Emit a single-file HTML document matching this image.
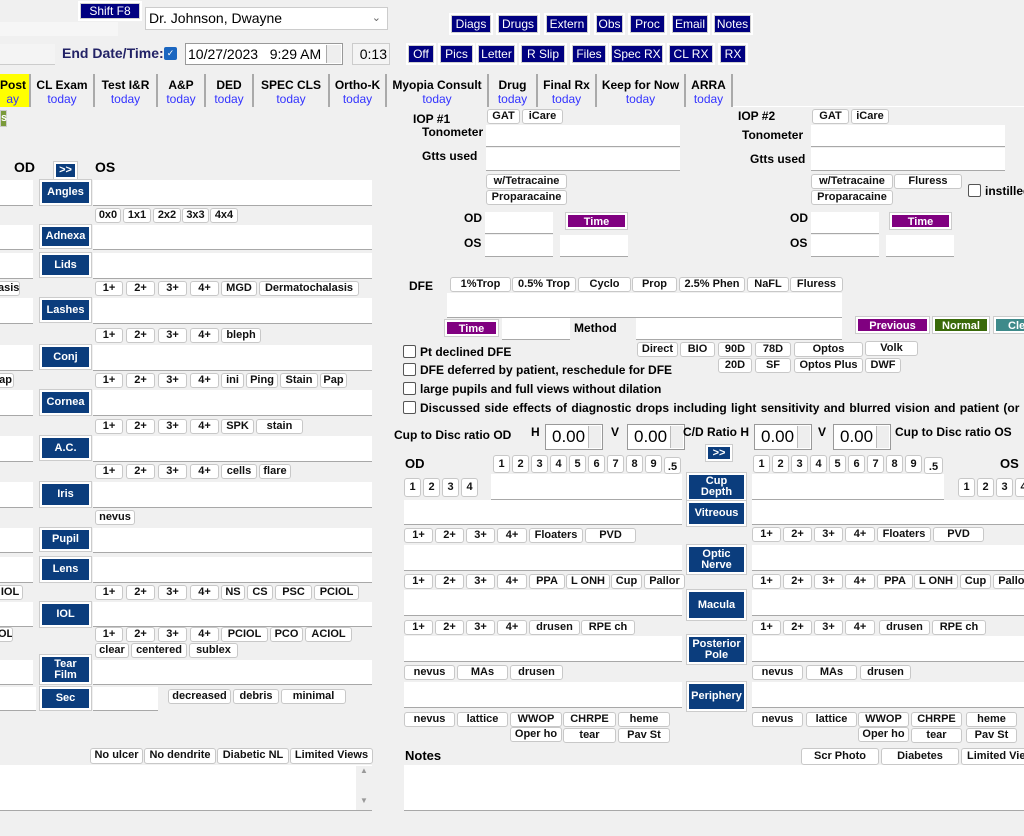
<!DOCTYPE html>
<html><head><meta charset="utf-8"><style>
*{box-sizing:border-box;margin:0;padding:0}
body{width:1024px;height:836px;background:#f0f0f0;position:relative;overflow:hidden;font-family:"Liberation Sans",Arial,sans-serif;font-size:12px;color:#000}
div,span{position:absolute}
.b{background:#fff;border:1px solid #c8c8c8;border-radius:3px;font-weight:bold;font-size:11px;text-align:center;height:15px;line-height:13px;white-space:nowrap;overflow:hidden;color:#111}
.n{background:#000080;color:#fff;font-size:12px;text-align:center;height:18px;line-height:16px;outline:2px solid #fff;border:1px solid #d0d0d0;white-space:nowrap}
.s{background:#0b3d7d;color:#fff;font-weight:bold;font-size:11px;text-align:center;border:2px solid #fff;outline:1px solid #ccc;line-height:11px;display:flex;align-items:center;justify-content:center;white-space:nowrap}
.f{background:#fff;border-bottom:1px solid #a8a8a8}
.l{font-weight:bold;font-size:12px;white-space:nowrap}
.p{background:#800080;color:#fff;font-weight:bold;font-size:11px;text-align:center;height:16px;line-height:14px;border:2px solid #fff;outline:1px solid #ccc}
.t{top:74px;height:33px;border-right:2px solid #aaa;text-align:center;font-weight:bold;font-size:12px;line-height:14px;padding-top:4px;background:#f0f0f0;white-space:nowrap}
.t i{font-style:normal;font-weight:normal;color:#3333ff;display:block}
.c{width:13px;height:13px;border:1px solid #555;border-radius:2px;background:#fff}
.sp{background:#fff;border:1px solid #999;height:26px;font-size:17px;line-height:24px;padding-left:6px}
.sp:after{content:"";position:absolute;right:1px;top:1px;width:12px;height:22px;background:#eee;border-left:1px solid #bbb}
</style></head><body>
<!-- top -->
<div style="left:0;top:22px;width:118px;height:14px;background:#f6f6f6"></div>
<div class="n" style="left:80px;top:3px;width:60px;height:16px;line-height:14px">Shift F8</div>
<div style="left:145px;top:7px;width:243px;height:23px;background:#fff;border:1px solid #ccc;font-size:14px;line-height:21px;padding-left:3px">Dr. Johnson, Dwayne<span style="right:6px;top:0;color:#666;font-size:11px">&#8964;</span></div>
<div style="left:0;top:44px;width:55px;height:21px;background:#f4f4f4;border-bottom:1px solid #ccc"></div>
<div class="l" style="left:62px;top:45px;font-size:14px;color:#222266">End Date/Time:</div>
<div style="left:164px;top:47px;width:13px;height:13px;background:#1a66c0;border-radius:2px;color:#fff;font-size:9px;line-height:13px;text-align:center">&#10003;</div>
<div style="left:185px;top:43px;width:158px;height:22px;background:#fff;border:1px solid #999;font-size:14px;line-height:20px;padding-left:2px">10/27/2023&nbsp;&nbsp;&nbsp;9:29 AM<span style="right:1px;top:1px;width:15px;height:18px;background:#eee;border-left:1px solid #aaa"></span></div>
<div style="left:352px;top:43px;width:38px;height:22px;background:#f4f4f4;border:1px solid #ccc;font-size:14px;line-height:20px;text-align:right;padding-right:2px">0:13</div>
<div class="n" style="left:451px;top:15px;width:40px">Diags</div>
<div class="n" style="left:498px;top:15px;width:40px">Drugs</div>
<div class="n" style="left:546px;top:15px;width:42px">Extern</div>
<div class="n" style="left:596px;top:15px;width:27px">Obs</div>
<div class="n" style="left:630px;top:15px;width:35px">Proc</div>
<div class="n" style="left:672px;top:15px;width:36px">Email</div>
<div class="n" style="left:714px;top:15px;width:37px">Notes</div>
<div class="n" style="left:408px;top:45px;width:26px">Off</div>
<div class="n" style="left:440px;top:45px;width:33px">Pics</div>
<div class="n" style="left:478px;top:45px;width:37px">Letter</div>
<div class="n" style="left:521px;top:45px;width:44px">R Slip</div>
<div class="n" style="left:572px;top:45px;width:34px">Files</div>
<div class="n" style="left:611px;top:45px;width:52px">Spec RX</div>
<div class="n" style="left:669px;top:45px;width:44px">CL RX</div>
<div class="n" style="left:720px;top:45px;width:26px">RX</div>
<!-- tabs -->
<div style="left:0;top:106px;width:1024px;height:1px;background:#fff"></div>
<div class="t" style="left:0;width:31px;background:#ffff00;text-align:right;padding-right:10px">Post<i style="color:#3333ff">ay</i></div>
<div class="t" style="left:31px;width:64px">CL Exam<i>today</i></div>
<div class="t" style="left:95px;width:63px">Test I&amp;R<i>today</i></div>
<div class="t" style="left:158px;width:48px">A&amp;P<i>today</i></div>
<div class="t" style="left:206px;width:48px">DED<i>today</i></div>
<div class="t" style="left:254px;width:76px">SPEC CLS<i>today</i></div>
<div class="t" style="left:330px;width:57px">Ortho-K<i>today</i></div>
<div class="t" style="left:387px;width:102px">Myopia Consult<i>today</i></div>
<div class="t" style="left:489px;width:49px">Drug<i>today</i></div>
<div class="t" style="left:538px;width:59px">Final Rx<i>today</i></div>
<div class="t" style="left:597px;width:89px">Keep for Now<i>today</i></div>
<div class="t" style="left:686px;width:47px">ARRA<i>today</i></div>
<div style="left:0;top:110px;width:7px;height:17px;background:#7a9a3a;border:1px solid #ccc;color:#fff;font-weight:bold;font-size:11px;line-height:14px">s</div>
<!-- left column -->
<div class="l" style="left:14px;top:159px;font-size:14px">OD</div>
<div class="s" style="left:54px;top:162px;width:23px;height:17px">&gt;&gt;</div>
<div class="l" style="left:95px;top:159px;font-size:14px">OS</div>

<div class="f" style="left:0;top:180px;width:33px;height:26px"></div><div class="s" style="left:40px;top:180px;width:51px;height:25px">Angles</div><div class="f" style="left:93px;top:180px;width:279px;height:26px"></div>
<div class="b" style="left:95px;top:208px;width:26px">0x0</div><div class="b" style="left:123px;top:208px;width:28px">1x1</div><div class="b" style="left:153px;top:208px;width:28px">2x2</div><div class="b" style="left:182px;top:208px;width:27px">3x3</div><div class="b" style="left:210px;top:208px;width:28px">4x4</div>

<div class="f" style="left:0;top:225px;width:33px;height:25px"></div><div class="s" style="left:40px;top:225px;width:51px;height:23px">Adnexa</div><div class="f" style="left:93px;top:225px;width:279px;height:25px"></div>

<div class="f" style="left:0;top:253px;width:33px;height:26px"></div><div class="s" style="left:40px;top:253px;width:51px;height:24px">Lids</div><div class="f" style="left:93px;top:253px;width:279px;height:26px"></div>
<div class="b" style="left:-3px;top:281px;width:23px">asis</div>
<div class="b" style="left:95px;top:281px;width:28px">1+</div><div class="b" style="left:126px;top:281px;width:29px">2+</div><div class="b" style="left:158px;top:281px;width:29px">3+</div><div class="b" style="left:190px;top:281px;width:29px">4+</div><div class="b" style="left:221px;top:281px;width:36px">MGD</div><div class="b" style="left:259px;top:281px;width:100px">Dermatochalasis</div>

<div class="f" style="left:0;top:298px;width:33px;height:26px"></div><div class="s" style="left:40px;top:298px;width:51px;height:24px">Lashes</div><div class="f" style="left:93px;top:298px;width:279px;height:26px"></div>
<div class="b" style="left:95px;top:328px;width:28px">1+</div><div class="b" style="left:126px;top:328px;width:29px">2+</div><div class="b" style="left:158px;top:328px;width:29px">3+</div><div class="b" style="left:190px;top:328px;width:29px">4+</div><div class="b" style="left:221px;top:328px;width:40px">bleph</div>

<div class="f" style="left:0;top:345px;width:33px;height:26px"></div><div class="s" style="left:40px;top:345px;width:51px;height:24px">Conj</div><div class="f" style="left:93px;top:345px;width:279px;height:26px"></div>
<div class="b" style="left:-3px;top:373px;width:17px">ap</div>
<div class="b" style="left:95px;top:373px;width:28px">1+</div><div class="b" style="left:126px;top:373px;width:29px">2+</div><div class="b" style="left:158px;top:373px;width:29px">3+</div><div class="b" style="left:190px;top:373px;width:29px">4+</div><div class="b" style="left:221px;top:373px;width:23px">ini</div><div class="b" style="left:246px;top:373px;width:32px">Ping</div><div class="b" style="left:280px;top:373px;width:38px">Stain</div><div class="b" style="left:320px;top:373px;width:27px">Pap</div>

<div class="f" style="left:0;top:390px;width:33px;height:26px"></div><div class="s" style="left:40px;top:390px;width:51px;height:25px">Cornea</div><div class="f" style="left:93px;top:390px;width:279px;height:26px"></div>
<div class="b" style="left:95px;top:419px;width:28px">1+</div><div class="b" style="left:126px;top:419px;width:29px">2+</div><div class="b" style="left:158px;top:419px;width:29px">3+</div><div class="b" style="left:190px;top:419px;width:29px">4+</div><div class="b" style="left:221px;top:419px;width:33px">SPK</div><div class="b" style="left:256px;top:419px;width:47px">stain</div>

<div class="f" style="left:0;top:436px;width:33px;height:26px"></div><div class="s" style="left:40px;top:436px;width:51px;height:24px">A.C.</div><div class="f" style="left:93px;top:436px;width:279px;height:26px"></div>
<div class="b" style="left:95px;top:464px;width:28px">1+</div><div class="b" style="left:126px;top:464px;width:29px">2+</div><div class="b" style="left:158px;top:464px;width:29px">3+</div><div class="b" style="left:190px;top:464px;width:29px">4+</div><div class="b" style="left:221px;top:464px;width:36px">cells</div><div class="b" style="left:259px;top:464px;width:32px">flare</div>

<div class="f" style="left:0;top:482px;width:33px;height:26px"></div><div class="s" style="left:40px;top:482px;width:51px;height:25px">Iris</div><div class="f" style="left:93px;top:482px;width:279px;height:26px"></div>
<div class="b" style="left:95px;top:510px;width:40px">nevus</div>

<div class="f" style="left:0;top:528px;width:33px;height:25px"></div><div class="s" style="left:40px;top:528px;width:51px;height:23px">Pupil</div><div class="f" style="left:93px;top:528px;width:279px;height:25px"></div>

<div class="f" style="left:0;top:557px;width:33px;height:26px"></div><div class="s" style="left:40px;top:557px;width:51px;height:25px">Lens</div><div class="f" style="left:93px;top:557px;width:279px;height:26px"></div>
<div class="b" style="left:-3px;top:585px;width:26px">IOL</div>
<div class="b" style="left:95px;top:585px;width:28px">1+</div><div class="b" style="left:126px;top:585px;width:29px">2+</div><div class="b" style="left:158px;top:585px;width:29px">3+</div><div class="b" style="left:190px;top:585px;width:29px">4+</div><div class="b" style="left:221px;top:585px;width:24px">NS</div><div class="b" style="left:247px;top:585px;width:26px">CS</div><div class="b" style="left:275px;top:585px;width:37px">PSC</div><div class="b" style="left:314px;top:585px;width:45px">PCIOL</div>

<div class="f" style="left:0;top:602px;width:33px;height:25px"></div><div class="s" style="left:40px;top:602px;width:51px;height:25px">IOL</div><div class="f" style="left:93px;top:602px;width:279px;height:25px"></div>
<div class="b" style="left:-3px;top:627px;width:16px">OL</div>
<div class="b" style="left:95px;top:627px;width:28px">1+</div><div class="b" style="left:126px;top:627px;width:29px">2+</div><div class="b" style="left:158px;top:627px;width:29px">3+</div><div class="b" style="left:190px;top:627px;width:29px">4+</div><div class="b" style="left:221px;top:627px;width:47px">PCIOL</div><div class="b" style="left:270px;top:627px;width:33px">PCO</div><div class="b" style="left:305px;top:627px;width:47px">ACIOL</div>
<div class="b" style="left:95px;top:643px;width:34px">clear</div><div class="b" style="left:131px;top:643px;width:56px">centered</div><div class="b" style="left:189px;top:643px;width:49px">sublex</div>

<div class="f" style="left:0;top:660px;width:33px;height:25px"></div><div class="s" style="left:40px;top:655px;width:51px;height:29px">Tear<br>Film</div><div class="f" style="left:93px;top:660px;width:279px;height:25px"></div>
<div class="f" style="left:0;top:687px;width:36px;height:24px"></div><div class="s" style="left:40px;top:687px;width:51px;height:23px">Sec</div><div class="f" style="left:93px;top:687px;width:65px;height:24px"></div>
<div class="b" style="left:168px;top:689px;width:63px">decreased</div><div class="b" style="left:233px;top:689px;width:46px">debris</div><div class="b" style="left:281px;top:689px;width:65px">minimal</div>

<div class="b" style="left:90px;top:748px;width:53px;height:16px">No ulcer</div><div class="b" style="left:144px;top:748px;width:72px;height:16px">No dendrite</div><div class="b" style="left:217px;top:748px;width:72px;height:16px">Diabetic NL</div><div class="b" style="left:290px;top:748px;width:83px;height:16px">Limited Views</div>
<div class="f" style="left:0;top:765px;width:372px;height:46px"></div>
<div style="left:356px;top:766px;width:16px;height:44px;background:#f0f0f0;color:#999;font-size:8px;text-align:center;line-height:10px">&#9650;<br><br><br>&#9660;</div>

<!-- IOP -->
<div class="l" style="left:413px;top:112px">IOP #1</div>
<div class="b" style="left:487px;top:109px;width:33px">GAT</div><div class="b" style="left:522px;top:109px;width:41px">iCare</div>
<div class="l" style="left:422px;top:125px">Tonometer</div>
<div class="f" style="left:486px;top:125px;width:194px;height:22px"></div>
<div class="l" style="left:422px;top:149px">Gtts used</div>
<div class="f" style="left:486px;top:148px;width:194px;height:23px"></div>
<div class="b" style="left:486px;top:174px;width:81px">w/Tetracaine</div>
<div class="b" style="left:486px;top:190px;width:81px">Proparacaine</div>
<div class="l" style="left:464px;top:211px">OD</div><div class="f" style="left:485px;top:212px;width:68px;height:22px"></div>
<div class="p" style="left:566px;top:213px;width:61px">Time</div>
<div class="l" style="left:464px;top:236px">OS</div><div class="f" style="left:485px;top:235px;width:68px;height:22px"></div><div class="f" style="left:560px;top:235px;width:68px;height:22px"></div>

<div class="l" style="left:738px;top:109px">IOP #2</div>
<div class="b" style="left:812px;top:109px;width:37px">GAT</div><div class="b" style="left:851px;top:109px;width:38px">iCare</div>
<div class="l" style="left:742px;top:128px">Tonometer</div>
<div class="f" style="left:811px;top:125px;width:194px;height:22px"></div>
<div class="l" style="left:750px;top:152px">Gtts used</div>
<div class="f" style="left:811px;top:148px;width:194px;height:23px"></div>
<div class="b" style="left:811px;top:174px;width:82px">w/Tetracaine</div><div class="b" style="left:894px;top:174px;width:68px">Fluress</div>
<div class="b" style="left:811px;top:190px;width:82px">Proparacaine</div>
<div class="c" style="left:968px;top:184px"></div><div class="l" style="left:985px;top:184px">instilled</div>
<div class="l" style="left:790px;top:211px">OD</div><div class="f" style="left:811px;top:212px;width:68px;height:22px"></div>
<div class="p" style="left:890px;top:213px;width:61px">Time</div>
<div class="l" style="left:790px;top:236px">OS</div><div class="f" style="left:811px;top:235px;width:68px;height:22px"></div><div class="f" style="left:886px;top:235px;width:68px;height:22px"></div>

<!-- DFE -->
<div class="l" style="left:409px;top:279px">DFE</div>
<div class="b" style="left:450px;top:277px;width:61px">1%Trop</div><div class="b" style="left:512px;top:277px;width:64px">0.5% Trop</div><div class="b" style="left:578px;top:277px;width:53px">Cyclo</div><div class="b" style="left:632px;top:277px;width:45px">Prop</div><div class="b" style="left:679px;top:277px;width:66px">2.5% Phen</div><div class="b" style="left:747px;top:277px;width:42px">NaFL</div><div class="b" style="left:790px;top:277px;width:53px">Fluress</div>
<div class="f" style="left:447px;top:293px;width:395px;height:25px"></div>
<div class="p" style="left:445px;top:320px;width:53px">Time</div>
<div class="f" style="left:502px;top:318px;width:68px;height:22px"></div>
<div class="l" style="left:574px;top:321px">Method</div>
<div class="f" style="left:636px;top:318px;width:206px;height:22px"></div>
<div class="p" style="left:856px;top:317px;width:73px">Previous</div>
<div class="p" style="left:933px;top:317px;width:56px;background:#3a6a0a">Normal</div>
<div class="p" style="left:994px;top:317px;width:40px;background:#3e8a8a;text-align:left;padding-left:12px">Clear</div>
<div class="b" style="left:637px;top:342px;width:41px">Direct</div><div class="b" style="left:680px;top:342px;width:35px">BIO</div><div class="b" style="left:718px;top:342px;width:34px">90D</div><div class="b" style="left:755px;top:342px;width:36px">78D</div><div class="b" style="left:794px;top:342px;width:69px">Optos</div><div class="b" style="left:865px;top:341px;width:53px">Volk</div>
<div class="b" style="left:718px;top:358px;width:34px">20D</div><div class="b" style="left:755px;top:358px;width:36px">SF</div><div class="b" style="left:794px;top:358px;width:69px">Optos Plus</div><div class="b" style="left:865px;top:358px;width:36px">DWF</div>
<div class="c" style="left:403px;top:345px"></div><div class="l" style="left:420px;top:345px">Pt declined DFE</div>
<div class="c" style="left:403px;top:363px"></div><div class="l" style="left:420px;top:363px">DFE deferred by patient, reschedule for DFE</div>
<div class="c" style="left:403px;top:382px"></div><div class="l" style="left:420px;top:382px">large pupils and full views without dilation</div>
<div class="c" style="left:403px;top:401px"></div><div class="l" style="left:420px;top:401px;word-spacing:1px">Discussed side effects of diagnostic drops including light sensitivity and blurred vision and patient (or parent)</div>

<!-- C/D -->
<div class="l" style="left:394px;top:428px">Cup to Disc ratio OD</div>
<div class="l" style="left:531px;top:425px">H</div><div class="sp" style="left:545px;top:424px;width:58px">0.00</div>
<div class="l" style="left:611px;top:425px">V</div><div class="sp" style="left:627px;top:424px;width:58px">0.00</div>
<div class="l" style="left:683px;top:425px">C/D Ratio H</div><div class="sp" style="left:754px;top:424px;width:58px">0.00</div>
<div class="l" style="left:818px;top:425px">V</div><div class="sp" style="left:833px;top:424px;width:58px">0.00</div>
<div class="l" style="left:895px;top:425px">Cup to Disc ratio OS</div>
<div class="s" style="left:706px;top:445px;width:26px;height:16px">&gt;&gt;</div>
<div class="l" style="left:405px;top:456px;font-size:13px">OD</div><div class="l" style="left:1000px;top:456px;font-size:13px">OS</div>
<div class="b" style="left:493px;top:455px;width:17px;height:18px;line-height:16px">1</div><div class="b" style="left:512px;top:455px;width:17px;height:18px;line-height:16px">2</div><div class="b" style="left:531px;top:455px;width:17px;height:18px;line-height:16px">3</div><div class="b" style="left:550px;top:455px;width:17px;height:18px;line-height:16px">4</div><div class="b" style="left:569px;top:455px;width:17px;height:18px;line-height:16px">5</div><div class="b" style="left:588px;top:455px;width:17px;height:18px;line-height:16px">6</div><div class="b" style="left:607px;top:455px;width:17px;height:18px;line-height:16px">7</div><div class="b" style="left:626px;top:455px;width:17px;height:18px;line-height:16px">8</div><div class="b" style="left:645px;top:455px;width:17px;height:18px;line-height:16px">9</div><div class="b" style="left:664px;top:457px;width:17px;height:17px;line-height:18px">.5</div>
<div class="b" style="left:753px;top:455px;width:17px;height:18px;line-height:16px">1</div><div class="b" style="left:772px;top:455px;width:17px;height:18px;line-height:16px">2</div><div class="b" style="left:791px;top:455px;width:17px;height:18px;line-height:16px">3</div><div class="b" style="left:810px;top:455px;width:17px;height:18px;line-height:16px">4</div><div class="b" style="left:829px;top:455px;width:17px;height:18px;line-height:16px">5</div><div class="b" style="left:848px;top:455px;width:17px;height:18px;line-height:16px">6</div><div class="b" style="left:867px;top:455px;width:17px;height:18px;line-height:16px">7</div><div class="b" style="left:886px;top:455px;width:17px;height:18px;line-height:16px">8</div><div class="b" style="left:905px;top:455px;width:17px;height:18px;line-height:16px">9</div><div class="b" style="left:924px;top:457px;width:19px;height:17px;line-height:18px">.5</div>
<div class="b" style="left:404px;top:478px;width:17px;height:19px;line-height:17px">1</div><div class="b" style="left:423px;top:478px;width:17px;height:19px;line-height:17px">2</div><div class="b" style="left:442px;top:478px;width:17px;height:19px;line-height:17px">3</div><div class="b" style="left:461px;top:478px;width:17px;height:19px;line-height:17px">4</div>
<div class="b" style="left:958px;top:478px;width:17px;height:19px;line-height:17px">1</div><div class="b" style="left:977px;top:478px;width:17px;height:19px;line-height:17px">2</div><div class="b" style="left:996px;top:478px;width:17px;height:19px;line-height:17px">3</div><div class="b" style="left:1015px;top:478px;width:17px;height:19px;line-height:17px">4</div>
<div class="f" style="left:491px;top:474px;width:191px;height:26px"></div><div class="f" style="left:752px;top:474px;width:192px;height:26px"></div>

<div class="s" style="left:687px;top:473px;width:59px;height:28px">Cup<br>Depth</div>
<div class="f" style="left:404px;top:500px;width:278px;height:25px"></div><div class="s" style="left:687px;top:501px;width:59px;height:25px">Vitreous</div><div class="f" style="left:752px;top:500px;width:272px;height:25px"></div>
<div class="s" style="left:687px;top:545px;width:59px;height:29px">Optic<br>Nerve</div>
<div class="f" style="left:404px;top:545px;width:278px;height:26px"></div><div class="f" style="left:752px;top:545px;width:272px;height:26px"></div>
<div class="s" style="left:687px;top:590px;width:59px;height:30px">Macula</div>
<div class="f" style="left:404px;top:590px;width:278px;height:26px"></div><div class="f" style="left:752px;top:590px;width:272px;height:26px"></div>
<div class="s" style="left:687px;top:635px;width:59px;height:29px">Posterior<br>Pole</div>
<div class="f" style="left:404px;top:636px;width:278px;height:26px"></div><div class="f" style="left:752px;top:636px;width:272px;height:26px"></div>
<div class="s" style="left:687px;top:682px;width:59px;height:29px">Periphery</div>
<div class="f" style="left:404px;top:682px;width:278px;height:26px"></div><div class="f" style="left:752px;top:682px;width:272px;height:26px"></div>

<!-- left rows -->
<div class="b" style="left:404px;top:528px;width:29px">1+</div><div class="b" style="left:435px;top:528px;width:29px">2+</div><div class="b" style="left:466px;top:528px;width:29px">3+</div><div class="b" style="left:497px;top:528px;width:30px">4+</div><div class="b" style="left:529px;top:528px;width:54px">Floaters</div><div class="b" style="left:585px;top:528px;width:51px">PVD</div>
<div class="b" style="left:404px;top:574px;width:29px">1+</div><div class="b" style="left:435px;top:574px;width:29px">2+</div><div class="b" style="left:466px;top:574px;width:29px">3+</div><div class="b" style="left:497px;top:574px;width:30px">4+</div><div class="b" style="left:529px;top:574px;width:36px">PPA</div><div class="b" style="left:566px;top:574px;width:44px">L ONH</div><div class="b" style="left:611px;top:574px;width:31px">Cup</div><div class="b" style="left:644px;top:574px;width:41px">Pallor</div>
<div class="b" style="left:404px;top:620px;width:29px">1+</div><div class="b" style="left:435px;top:620px;width:29px">2+</div><div class="b" style="left:466px;top:620px;width:29px">3+</div><div class="b" style="left:497px;top:620px;width:30px">4+</div><div class="b" style="left:529px;top:620px;width:51px">drusen</div><div class="b" style="left:581px;top:620px;width:54px">RPE ch</div>
<div class="b" style="left:404px;top:665px;width:51px">nevus</div><div class="b" style="left:457px;top:665px;width:51px">MAs</div><div class="b" style="left:510px;top:665px;width:53px">drusen</div>
<div class="b" style="left:404px;top:712px;width:51px">nevus</div><div class="b" style="left:457px;top:712px;width:51px">lattice</div><div class="b" style="left:510px;top:712px;width:52px">WWOP</div><div class="b" style="left:563px;top:712px;width:53px">CHRPE</div><div class="b" style="left:618px;top:712px;width:52px">heme</div>
<div class="b" style="left:510px;top:727px;width:52px">Oper ho</div><div class="b" style="left:563px;top:728px;width:53px">tear</div><div class="b" style="left:618px;top:728px;width:52px">Pav St</div>
<!-- right rows -->
<div class="b" style="left:752px;top:527px;width:29px">1+</div><div class="b" style="left:783px;top:527px;width:29px">2+</div><div class="b" style="left:814px;top:527px;width:29px">3+</div><div class="b" style="left:845px;top:527px;width:30px">4+</div><div class="b" style="left:877px;top:527px;width:54px">Floaters</div><div class="b" style="left:933px;top:527px;width:51px">PVD</div>
<div class="b" style="left:752px;top:574px;width:29px">1+</div><div class="b" style="left:783px;top:574px;width:29px">2+</div><div class="b" style="left:814px;top:574px;width:29px">3+</div><div class="b" style="left:845px;top:574px;width:30px">4+</div><div class="b" style="left:877px;top:574px;width:36px">PPA</div><div class="b" style="left:914px;top:574px;width:44px">L ONH</div><div class="b" style="left:960px;top:574px;width:31px">Cup</div><div class="b" style="left:993px;top:574px;width:41px">Pallor</div>
<div class="b" style="left:752px;top:620px;width:29px">1+</div><div class="b" style="left:783px;top:620px;width:29px">2+</div><div class="b" style="left:814px;top:620px;width:29px">3+</div><div class="b" style="left:845px;top:620px;width:30px">4+</div><div class="b" style="left:879px;top:620px;width:51px">drusen</div><div class="b" style="left:932px;top:620px;width:54px">RPE ch</div>
<div class="b" style="left:752px;top:665px;width:51px">nevus</div><div class="b" style="left:806px;top:665px;width:51px">MAs</div><div class="b" style="left:860px;top:665px;width:51px">drusen</div>
<div class="b" style="left:752px;top:712px;width:51px">nevus</div><div class="b" style="left:806px;top:712px;width:51px">lattice</div><div class="b" style="left:858px;top:712px;width:51px">WWOP</div><div class="b" style="left:911px;top:712px;width:51px">CHRPE</div><div class="b" style="left:966px;top:712px;width:51px">heme</div>
<div class="b" style="left:858px;top:727px;width:51px">Oper ho</div><div class="b" style="left:911px;top:728px;width:51px">tear</div><div class="b" style="left:966px;top:728px;width:51px">Pav St</div>

<div class="l" style="left:405px;top:748px;font-size:13px">Notes</div>
<div class="b" style="left:801px;top:748px;width:78px;height:17px;line-height:15px">Scr Photo</div><div class="b" style="left:881px;top:748px;width:78px;height:17px;line-height:15px">Diabetes</div><div class="b" style="left:961px;top:748px;width:70px;height:17px;line-height:15px;text-align:left;padding-left:5px">Limited Views</div>
<div class="f" style="left:404px;top:765px;width:620px;height:46px"></div>
</body></html>
